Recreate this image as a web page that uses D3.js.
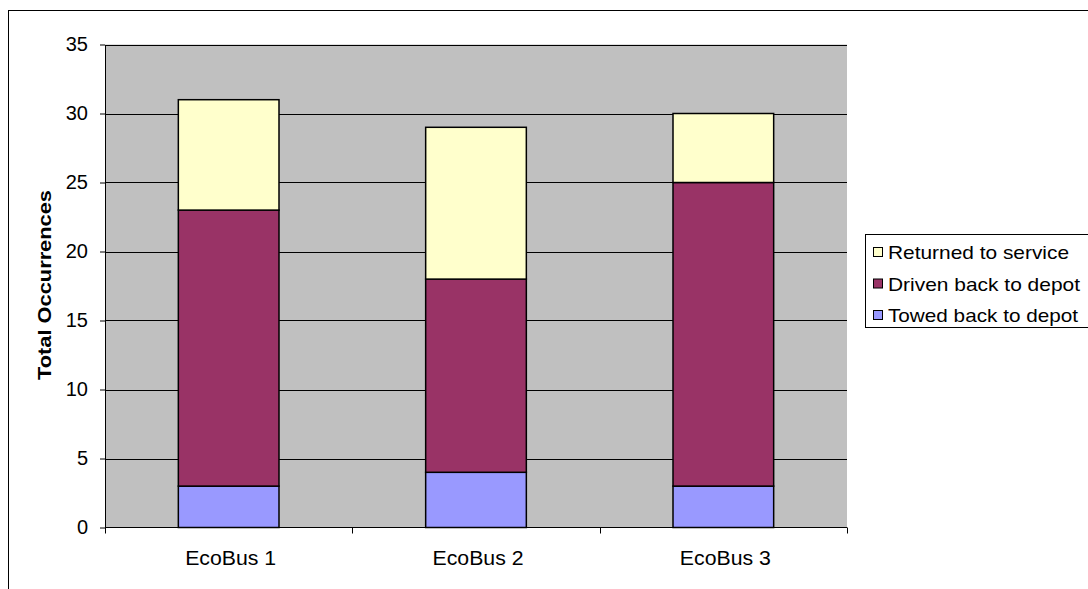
<!DOCTYPE html>
<html><head><meta charset="utf-8">
<script src="https://cdn.jsdelivr.net/npm/d3@7"></script>
<style>body{margin:0;background:#fff;}svg{display:block;font-family:Arial,"Liberation Sans",sans-serif;}</style>
</head><body>
<svg id="c" width="1088" height="589"></svg>
<script>
const categories = ["EcoBus 1", "EcoBus 2", "EcoBus 3"];
const towed = [3, 4, 3];
const driven = [20, 14, 22];
const returned = [8, 11, 5];
const seriesNames = ["Towed back to depot", "Driven back to depot", "Returned to service"];
const seriesColors = ["#9999FF", "#993366", "#FFFFCC"];
const yTicks = [0, 5, 10, 15, 20, 25, 30, 35];

const svg = d3.select("#c");
svg.append("rect").attr("x", 8.5).attr("y", 10.5).attr("width", 1200).attr("height", 700)
  .attr("fill", "#fff").attr("stroke", "#000").attr("stroke-width", 1);

const L = 105, R = 847, T = 44.5, B = 527.5;
const x = d3.scaleBand().domain(categories).range([L, R]).paddingInner(0.593).paddingOuter(0.2965);
const xb = d3.scaleBand().domain(categories).range([L, R]);
const y = d3.scaleLinear().domain([0, 35]).range([B, T]);

svg.append("rect").attr("x", L).attr("y", T).attr("width", R - L).attr("height", B - T).attr("fill", "#C0C0C0");

// grid
svg.append("g").selectAll("line").data(yTicks.filter(d => d > 0)).join("line")
  .attr("x1", L).attr("x2", R).attr("y1", d => Math.round(y(d)) + 0.5).attr("y2", d => Math.round(y(d)) + 0.5)
  .attr("stroke", "#000").attr("stroke-width", 1);

const data = categories.map((c, i) => ({cat: c, Towed: towed[i], Driven: driven[i], Returned: returned[i]}));
const stack = d3.stack().keys(["Towed", "Driven", "Returned"])(data);
svg.append("g").selectAll("g").data(stack).join("g").attr("fill", (d, i) => seriesColors[i])
  .selectAll("rect").data(d => d).join("rect")
  .attr("x", d => x(d.data.cat)).attr("width", x.bandwidth())
  .attr("y", d => y(d[1])).attr("height", d => y(d[0]) - y(d[1]))
  .attr("stroke", "#000").attr("stroke-width", 1.5);

// y axis
const ya = d3.axisLeft(y).tickValues(yTicks).tickSize(5).tickSizeOuter(0).tickPadding(12);
const gy = svg.append("g").attr("transform", `translate(${L},0)`).call(ya);
gy.select(".domain").attr("stroke", "#000");
gy.selectAll("text").attr("font-size", 20).attr("fill", "#000").attr("font-family", "Arial,'Liberation Sans',sans-serif");

// x axis
svg.append("line").attr("x1", L).attr("x2", R).attr("y1", B).attr("y2", B).attr("stroke", "#000");
const bounds = [L].concat(categories.map(c => xb(c) + xb.bandwidth()));
svg.append("g").selectAll("line").data(bounds).join("line")
  .attr("x1", d => Math.round(d) + 0.5).attr("x2", d => Math.round(d) + 0.5).attr("y1", B).attr("y2", B + 6).attr("stroke", "#000");
svg.append("g").selectAll("text").data(categories).join("text")
  .attr("x", d => xb(d) + xb.bandwidth() / 2 + 2).attr("y", 565).attr("text-anchor", "middle")
  .attr("font-size", 20).attr("fill", "#000")
  .attr("textLength", 91).attr("lengthAdjust", "spacingAndGlyphs").text(d => d);

// y title
svg.append("text").attr("transform", "translate(51,285) rotate(-90)").attr("text-anchor", "middle")
  .attr("font-size", 19).attr("font-weight", "bold")
  .attr("textLength", 190).attr("lengthAdjust", "spacingAndGlyphs").text("Total Occurrences");

// legend
const lg = svg.append("g");
lg.append("rect").attr("x", 865.5).attr("y", 234.5).attr("width", 260).attr("height", 93)
  .attr("fill", "#fff").attr("stroke", "#000");
const order = [2, 1, 0];
const legendLens = [190, 192, 181];
order.forEach((si, k) => {
  const cy = 252 + k * 31.5;
  lg.append("rect").attr("x", 873.5).attr("y", cy - 4.5).attr("width", 9).attr("height", 9)
    .attr("fill", seriesColors[si]).attr("stroke", "#000");
  lg.append("text").attr("x", 888).attr("y", cy + 7).attr("font-size", 19).attr("fill", "#000")
    .attr("textLength", legendLens[si]).attr("lengthAdjust", "spacingAndGlyphs").text(seriesNames[si]);
});
</script>
</body></html>
